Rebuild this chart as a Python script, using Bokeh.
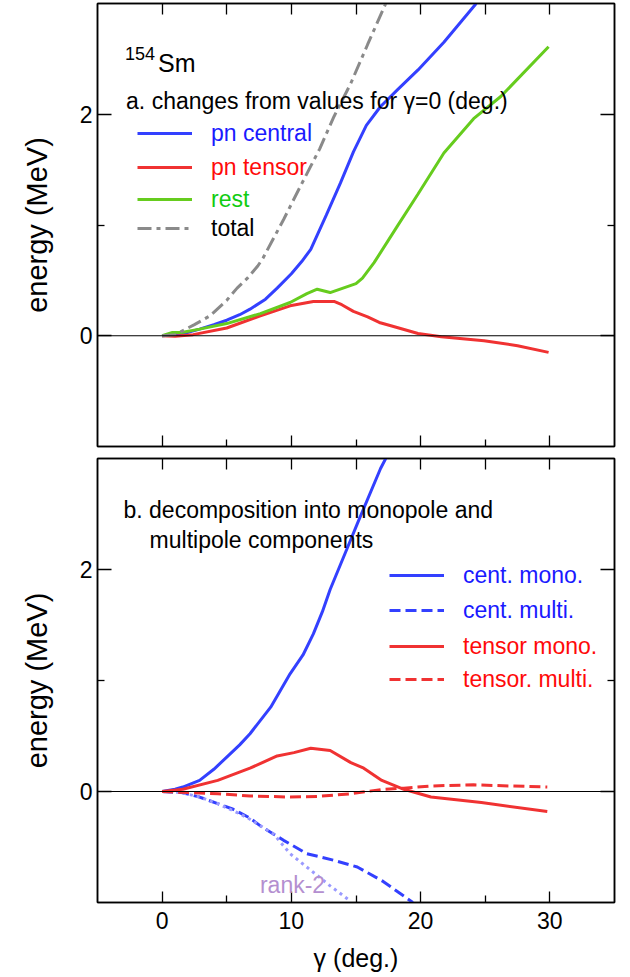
from bokeh.plotting import figure
from bokeh.models import LinearAxis, FixedTicker, Range1d, Span, Label, Legend, LegendItem
from bokeh.layouts import column
from bokeh.embed import file_html
from bokeh.resources import INLINE

FONT = "Liberation Sans"

# ---------------- data: panel a ----------------
g_central = [0, 1, 2, 2.9, 4, 5, 6, 6.8, 8, 8.9, 10, 10.8, 11.5, 12.7, 13.8, 14.8, 15.8, 16.9, 18.2, 19.8, 21.8, 24.3]
e_central = [0, 0.01, 0.03, 0.06, 0.10, 0.14, 0.19, 0.24, 0.33, 0.43, 0.56, 0.67, 0.78, 1.09, 1.38, 1.66, 1.90, 2.07, 2.22, 2.40, 2.65, 3.0]

g_tensor = [0, 1, 2.4, 5, 7.6, 9.9, 11.7, 13.3, 13.9, 14.8, 15.9, 16.8, 17.7, 19.8, 21.6, 24.9, 27.5, 29.9]
e_tensor = [0, -0.005, 0.01, 0.07, 0.18, 0.27, 0.31, 0.31, 0.28, 0.22, 0.17, 0.12, 0.09, 0.02, -0.01, -0.045, -0.09, -0.15]

g_rest = [0, 0.8, 1.5, 2.9, 5, 7.6, 9.9, 11.2, 12.0, 13.0, 14.0, 15.0, 15.5, 16.4, 18.2, 19.8, 21.8, 24.1, 26.2, 29.9]
e_rest = [0, 0.03, 0.03, 0.06, 0.11, 0.20, 0.30, 0.38, 0.42, 0.39, 0.43, 0.47, 0.52, 0.66, 0.99, 1.28, 1.65, 1.96, 2.16, 2.61]

g_total = [0, 1, 1.5, 2.5, 3.7, 5, 5.8, 6.6, 7.4, 7.8, 9.4, 10.7, 12.2, 13.3, 14.6, 15.9, 17.3]
e_total = [0, 0.01, 0.04, 0.10, 0.18, 0.32, 0.43, 0.52, 0.63, 0.70, 1.05, 1.35, 1.69, 1.98, 2.28, 2.63, 3.0]

# ---------------- data: panel b ----------------
g_cmono = [0, 1, 1.6, 2.9, 4, 5, 6, 6.8, 8.4, 9.9, 10.9, 11.7, 12.4, 13.0, 14.6, 15.2, 16.9, 17.3]
e_cmono = [0, 0.02, 0.04, 0.10, 0.20, 0.31, 0.42, 0.52, 0.76, 1.06, 1.23, 1.42, 1.62, 1.82, 2.27, 2.44, 2.91, 3.0]

g_cmulti = [0, 1.5, 2.9, 4.3, 5.5, 6.8, 7.6, 9.4, 11.2, 13.3, 15.1, 17.1, 19.4]
e_cmulti = [0, -0.01, -0.05, -0.11, -0.16, -0.24, -0.31, -0.44, -0.56, -0.62, -0.68, -0.81, -1.0]

g_rank2 = [0, 1.5, 2.9, 4.3, 6.0, 6.8, 8.6, 9.9, 11.5, 13.0, 14.6]
e_rank2 = [0, -0.01, -0.05, -0.11, -0.20, -0.25, -0.38, -0.56, -0.71, -0.85, -0.99]

g_tmono = [0, 1.6, 4.3, 6.8, 8.9, 10.2, 11.5, 13.0, 14.6, 15.6, 17.0, 18.7, 20.8, 24.7, 29.8]
e_tmono = [0, 0.02, 0.10, 0.21, 0.32, 0.35, 0.39, 0.37, 0.26, 0.21, 0.10, 0.02, -0.05, -0.10, -0.18]

g_tmulti = [0, 2, 4.3, 6.8, 9.9, 12.0, 14.6, 17.1, 18.7, 20.8, 24.1, 29.8]
e_tmulti = [0, -0.01, -0.02, -0.04, -0.05, -0.045, -0.02, 0.02, 0.03, 0.05, 0.06, 0.04]

X_MAJOR = [0, 10, 20, 30]
X_MINOR = [5, 15, 25]
X_TOP = [0, 5, 10, 15, 20, 25, 30]
Y_MAJOR = [0, 2]
Y_MINOR = [1]

BLUE = "#3340ff"
RED = "#f03232"
GREEN = "#66cc1e"
GRAY = "#8a8a8a"
LBLUE = "#9a9aff"


def no_labels(ax):
    ax.major_label_text_font_size = "1px"
    ax.major_label_text_color = None
    ax.major_label_standoff = 0


def tick_style(ax, major_in, minor_in):
    ax.axis_line_color = "black"
    ax.axis_line_width = 1.5
    ax.major_tick_line_color = "black"
    ax.major_tick_line_width = 1.3
    ax.minor_tick_line_color = "black"
    ax.minor_tick_line_width = 1.3
    ax.major_tick_in = major_in
    ax.major_tick_out = 0
    ax.minor_tick_in = minor_in
    ax.minor_tick_out = 0


def make_panel(frame_h, show_x_labels, top_border, bottom_border):
    p = figure(frame_width=517, frame_height=frame_h,
               x_range=Range1d(-5, 35), y_range=Range1d(-1, 3),
               output_backend="svg", toolbar_location=None,
               min_border_left=97, min_border_right=10,
               min_border_top=top_border, min_border_bottom=bottom_border)
    p.grid.visible = False
    p.outline_line_color = "black"
    p.outline_line_width = 1.5
    p.background_fill_color = "white"
    p.border_fill_color = "white"

    xa = p.xaxis[0]
    xa.ticker = FixedTicker(ticks=X_MAJOR, minor_ticks=X_MINOR)
    tick_style(xa, 11, 7)
    if show_x_labels:
        xa.major_label_text_font = FONT
        xa.major_label_text_font_size = "23px"
        xa.major_label_text_color = "black"
        xa.major_label_standoff = 9
        xa.axis_label = "γ (deg.)"
        xa.axis_label_text_font = FONT
        xa.axis_label_text_font_size = "25px"
        xa.axis_label_text_font_style = "normal"
        xa.axis_label_text_color = "black"
        xa.axis_label_standoff = 12
    else:
        no_labels(xa)

    ya = p.yaxis[0]
    ya.ticker = FixedTicker(ticks=Y_MAJOR, minor_ticks=Y_MINOR)
    tick_style(ya, 14, 7)
    ya.major_label_text_font = FONT
    ya.major_label_text_font_size = "23px"
    ya.major_label_text_color = "black"
    ya.major_label_standoff = 5
    ya.axis_label = "energy (MeV)"
    ya.axis_label_text_font = FONT
    ya.axis_label_text_font_size = "29px"
    ya.axis_label_text_font_style = "normal"
    ya.axis_label_text_color = "black"
    ya.axis_label_standoff = 24

    top = LinearAxis(ticker=FixedTicker(ticks=X_TOP, minor_ticks=[]))
    tick_style(top, 11, 0)
    no_labels(top)
    p.add_layout(top, "above")

    right = LinearAxis(ticker=FixedTicker(ticks=Y_MAJOR, minor_ticks=Y_MINOR))
    tick_style(right, 14, 7)
    no_labels(right)
    p.add_layout(right, "right")

    p.add_layout(Span(location=0, dimension="width", line_color="black", line_width=1))
    return p


def add_key(p, renderer, label, text_color, x, y):
    lg = Legend(items=[LegendItem(label=label, renderers=[renderer])],
                location=(x, y), glyph_width=55, glyph_height=30,
                label_standoff=19, label_height=30, padding=0, margin=0, spacing=0,
                border_line_alpha=0, background_fill_alpha=0,
                label_text_font=FONT, label_text_font_size="23px",
                label_text_color=text_color)
    p.add_layout(lg, "center")


# ---------------- panel a ----------------
pa = make_panel(443, False, 3, 6)
r_c = pa.line(g_central, e_central, line_color=BLUE, line_width=3)
r_t = pa.line(g_tensor, e_tensor, line_color=RED, line_width=3)
r_r = pa.line(g_rest, e_rest, line_color=GREEN, line_width=3)
r_tot = pa.line(g_total, e_total, line_color=GRAY, line_width=3, line_dash="14 5 4 5")

add_key(pa, r_c, "pn central", "#1a1aff", 40, 298)
add_key(pa, r_t, "pn tensor", "#ff0a0a", 40, 264)
add_key(pa, r_r, "rest", "#11cc11", 40, 232)
add_key(pa, r_tot, "total", "black", 40, 203)

pa.add_layout(Label(x=-2.87, y=2.546, text="154", text_font=FONT, text_font_size="18px",
                    text_color="black", text_baseline="alphabetic"))
pa.add_layout(Label(x=-0.31, y=2.461, text="Sm", text_font=FONT, text_font_size="25px",
                    text_color="black", text_baseline="alphabetic"))
pa.add_layout(Label(x=-2.79, y=2.124, text="a. changes from values for γ=0 (deg.)",
                    text_font=FONT, text_font_size="23px", text_color="black",
                    text_baseline="alphabetic"))

# ---------------- panel b ----------------
pb = make_panel(444, True, 6, 10)
r_cm = pb.line(g_cmono, e_cmono, line_color=BLUE, line_width=3)
r_cu = pb.line(g_cmulti, e_cmulti, line_color=BLUE, line_width=3, line_dash="11 5")
pb.line(g_rank2, e_rank2, line_color=LBLUE, line_width=3, line_dash="3 4")
r_tm = pb.line(g_tmono, e_tmono, line_color=RED, line_width=3)
r_tu = pb.line(g_tmulti, e_tmulti, line_color=RED, line_width=3, line_dash="11 5")

add_key(pb, r_cm, "cent. mono.", "#1a1aff", 292, 312)
add_key(pb, r_cu, "cent. multi.", "#1a1aff", 292, 277)
add_key(pb, r_tm, "tensor mono.", "#ff0a0a", 292, 241)
add_key(pb, r_tu, "tensor. multi.", "#ff0a0a", 292, 208)

pb.add_layout(Label(x=-2.99, y=2.532, text="b. decomposition into monopole and",
                    text_font=FONT, text_font_size="23px", text_color="black",
                    text_baseline="alphabetic"))
pb.add_layout(Label(x=-0.97, y=2.270, text="multipole components",
                    text_font=FONT, text_font_size="23px", text_color="black",
                    text_baseline="alphabetic"))
pb.add_layout(Label(x=10.09, y=-0.838, text="rank-2", text_font=FONT, text_font_size="23px",
                    text_color="#b48fd0", text_baseline="middle", text_align="center"))

layout = column(pa, pb, spacing=0)
open("out.html", "w").write(file_html(layout, INLINE))
